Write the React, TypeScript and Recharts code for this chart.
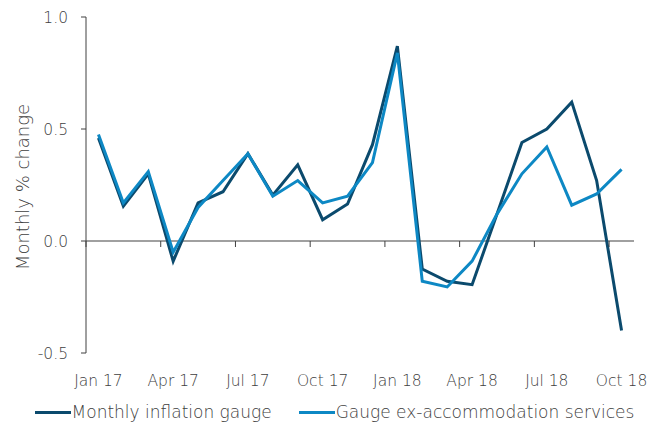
import { Legend, Line, LineChart, ReferenceLine, XAxis, YAxis } from "recharts";

// Monthly values, Jan 17 .. Oct 18
const MONTHS = [
  "Jan 17", "Feb 17", "Mar 17", "Apr 17", "May 17", "Jun 17", "Jul 17", "Aug 17",
  "Sep 17", "Oct 17", "Nov 17", "Dec 17", "Jan 18", "Feb 18", "Mar 18", "Apr 18",
  "May 18", "Jun 18", "Jul 18", "Aug 18", "Sep 18", "Oct 18",
];
const GAUGE = [
  0.46, 0.155, 0.3, -0.09, 0.17, 0.22, 0.39, 0.205, 0.34, 0.095, 0.165, 0.43,
  0.87, -0.125, -0.18, -0.195, 0.12, 0.44, 0.5, 0.62, 0.27, -0.4,
];
const GAUGE_EX_ACCOM = [
  0.475, 0.17, 0.31, -0.05, 0.15, 0.27, 0.39, 0.2, 0.27, 0.17, 0.2, 0.35,
  0.84, -0.18, -0.205, -0.09, 0.12, 0.3, 0.42, 0.16, 0.21, 0.32,
];
const Y_TICKS = [-0.5, 0, 0.5, 1];

const DARK = "#0b4a6d";
const LIGHT = "#0d88c4";
const TEXT = "#404040";
const AXIS = "#404040";
const FONT = "'DejaVu Sans', sans-serif";
const WEIGHT = 200;

const SERIES = [
  { key: "gauge", name: "Monthly inflation gauge", color: DARK },
  { key: "exAccom", name: "Gauge ex-accommodation services", color: LIGHT },
];

const W = 669;
const H = 425;
const MARGIN = { top: 17, right: 35, bottom: 1, left: 0 };
const Y_AXIS_W = 86;
const LEGEND_H = 24;
const X_AXIS_H = 47;
const PLOT_W = W - MARGIN.left - MARGIN.right - Y_AXIS_W;
const PLOT_H = H - MARGIN.top - MARGIN.bottom - LEGEND_H - X_AXIS_H;
const BAND = PLOT_W / MONTHS.length;
// where 0 sits on the [-0.5, 1] axis; category ticks hang off the zero line
const ZERO_Y = MARGIN.top + PLOT_H * (1 / 1.5);

const data = MONTHS.map((month, i) => ({
  month,
  gauge: GAUGE[i],
  exAccom: GAUGE_EX_ACCOM[i],
}));

function MonthTick({ x, y, payload }: { x: number; y: number; payload: { value: string } }) {
  const edge = x - BAND / 2;
  return (
    <g>
      <line x1={edge} x2={edge} y1={ZERO_Y} y2={ZERO_Y + 6} stroke={AXIS} strokeWidth={1} />
      <text
        x={x}
        y={y + 33}
        textAnchor="middle"
        fill={TEXT}
        fontSize={15.5}
        fontWeight={WEIGHT}
        fontFamily={FONT}
      >
        {payload.value}
      </text>
    </g>
  );
}

function YTitle({ viewBox }: { viewBox?: { x: number; y: number; width: number; height: number } }) {
  if (!viewBox) return null;
  const cx = viewBox.x + 22;
  const cy = viewBox.y + viewBox.height / 2 + 2;
  return (
    <text
      x={cx}
      y={cy}
      transform={`rotate(-90 ${cx} ${cy})`}
      textAnchor="middle"
      dominantBaseline="central"
      fill={TEXT}
      fontSize={18}
      fontWeight={WEIGHT}
      fontFamily={FONT}
    >
      Monthly % change
    </text>
  );
}

function LegendRow() {
  return (
    <div
      style={{
        display: "flex",
        justifyContent: "center",
        alignItems: "center",
        height: LEGEND_H,
        fontFamily: FONT,
        fontWeight: WEIGHT,
        fontSize: 17,
        color: TEXT,
        whiteSpace: "nowrap",
      }}
    >
      {SERIES.map((s, i) => (
        <div
          key={s.key}
          style={{ display: "flex", alignItems: "center", marginLeft: i === 0 ? 0 : 27 }}
        >
          <div style={{ flex: "0 0 36px", width: 36, height: 3, background: s.color, marginRight: 1 }} />
          <span>{s.name}</span>
        </div>
      ))}
    </div>
  );
}

export default function App() {
  return (
    <div style={{ position: "absolute", left: 0, top: 0, width: W, height: H, background: "#fff" }}>
      <LineChart width={W} height={H} data={data} margin={MARGIN}>
        <XAxis
          dataKey="month"
          scale="point"
          padding={{ left: BAND / 2, right: BAND / 2 }}
          interval={2}
          axisLine={false}
          tickLine={false}
          tickSize={0}
          tickMargin={0}
          height={X_AXIS_H}
          tick={(props: any) => <MonthTick {...props} />}
        />
        <YAxis
          width={Y_AXIS_W}
          domain={[-0.5, 1]}
          ticks={Y_TICKS}
          interval={0}
          tickFormatter={(v: number) => v.toFixed(1)}
          axisLine={{ stroke: AXIS, strokeWidth: 1 }}
          tickLine={{ stroke: AXIS, strokeWidth: 1 }}
          tickSize={5}
          tickMargin={13}
          tick={{ fill: TEXT, fontSize: 15.5, fontFamily: FONT, fontWeight: WEIGHT }}
          label={<YTitle />}
        />
        <ReferenceLine y={0} stroke="#808080" strokeWidth={1.5} />
        <Legend
          verticalAlign="bottom"
          content={() => <LegendRow />}
          wrapperStyle={{ left: 0, width: W, height: LEGEND_H, bottom: MARGIN.bottom }}
        />
        {SERIES.map((s) => (
          <Line
            key={s.key}
            dataKey={s.key}
            name={s.name}
            type="linear"
            stroke={s.color}
            strokeWidth={3}
            dot={false}
            activeDot={false}
            isAnimationActive={false}
          />
        ))}
      </LineChart>
    </div>
  );
}
